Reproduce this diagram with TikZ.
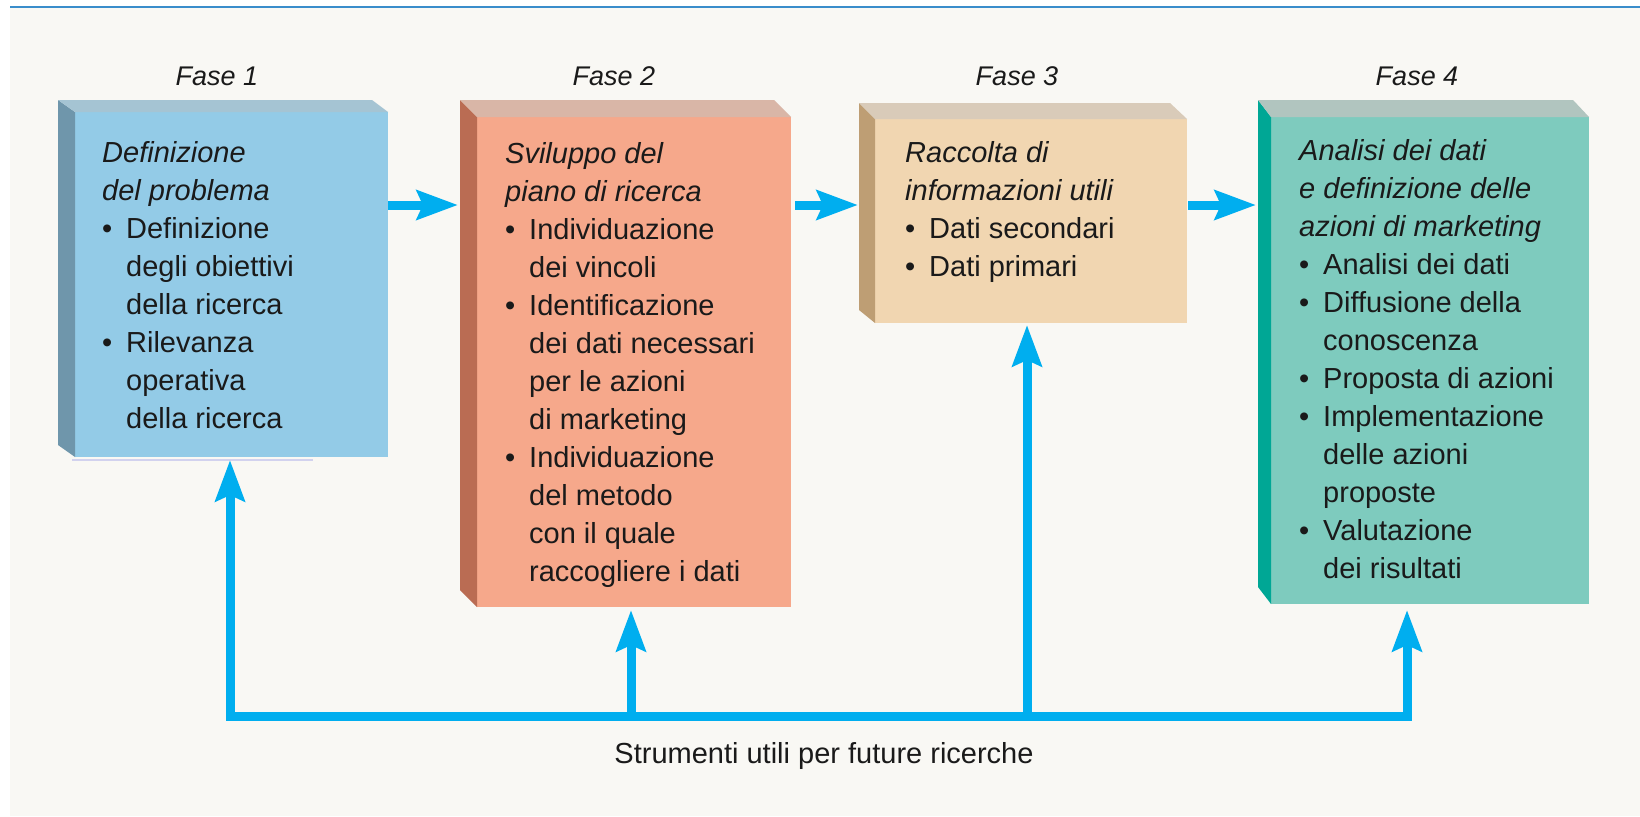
\documentclass[tikz,border=0pt]{standalone}
\usepackage{fontspec}
\setmainfont{Liberation Sans}
\usetikzlibrary{arrows.meta}
\definecolor{bgc}{HTML}{F9F8F4}
\definecolor{rulec}{HTML}{3A8DCB}
\definecolor{arrowc}{HTML}{00AEEF}
\definecolor{txtc}{HTML}{1A1A1A}
\definecolor{p1front}{HTML}{93CBE7}
\definecolor{p1top}{HTML}{A5C4D3}
\definecolor{p1side}{HTML}{6F96AB}
\definecolor{p2front}{HTML}{F6A88B}
\definecolor{p2top}{HTML}{D9B6A7}
\definecolor{p2side}{HTML}{BA6C53}
\definecolor{p3front}{HTML}{F1D6B1}
\definecolor{p3top}{HTML}{D9CBB9}
\definecolor{p3side}{HTML}{BE9E74}
\definecolor{p4front}{HTML}{7ECBBE}
\definecolor{p4top}{HTML}{B1C5BF}
\definecolor{p4side}{HTML}{00A795}
\definecolor{lavc}{HTML}{D2D2EE}
\newcommand{\bulitem}{\makebox[24pt][l]{\textbullet}}
\newcommand{\contind}{\hspace*{24pt}}
% #1 name, #2 x0 back-left, #3 xf front-left, #4 xb back-right, #5 x1 front-right,
% #6 y0 back-top, #7 yf front-top, #8 y1 front-bottom, #9 yl left-bottom
\newcommand{\prismbox}[9]{%
  \node[inner sep=0pt, outer sep=0pt, fill=#1front, anchor=north west,
        minimum width={(#5)-(#3)}, minimum height={(#8)-(#7)}] (#1) at (#3,#7) {};
  \coordinate (#1back) at (#2,#6);
  \fill[#1side] (#2,#6) -- (#3,#7) -- (#3,#8) -- (#2,#9) -- cycle;
  \fill[#1top] (#2,#6) -- (#4,#6) -- (#5,#7) -- (#3,#7) -- cycle;
}
\tikzset{
  flow/.style={draw=arrowc, line width=9pt},
  tipped/.style={-{Stealth[length=41pt,width=29pt,inset=6pt]}},
  boxtext/.style={inner sep=0pt, anchor=base west, text=txtc,
                  font=\fontsize{29}{38}\selectfont},
  fase/.style={inner sep=0pt, anchor=base, text=txtc,
               font=\itshape\fontsize{27}{32}\selectfont},
}
\begin{document}
\begin{tikzpicture}[x=1pt,y=-1pt]
\useasboundingbox (0,0) rectangle (1640,816);
\fill[white] (0,0) rectangle (1640,816);
\fill[bgc] (10,8) rectangle (1640,816);
\draw[rulec, line width=2pt] (10,7) -- (1640,7);

% boxes
\prismbox{p1}{58}{75}{372}{388}{100}{112}{457}{445}
\prismbox{p2}{460}{477}{774}{791}{100}{117}{607}{590}
\prismbox{p3}{859}{875}{1170}{1187}{103}{119}{323}{310}
\prismbox{p4}{1258}{1271}{1573}{1589}{100}{117}{604}{587}
\draw[lavc, line width=1.5pt] (72,460) -- (313,460);

% phase labels
\node[fase] (fase1) at (217,85) {Fase 1};
\node[fase] (fase2) at (614,85) {Fase 2};
\node[fase] (fase3) at (1017,85) {Fase 3};
\node[fase] (fase4) at (1417,85) {Fase 4};

% box texts
\node[boxtext] (t1) at (102,162) {\parbox[t]{280pt}{\fontsize{29}{38}\selectfont\raggedright
  {\itshape Definizione\\ del problema}\\
  \bulitem Definizione\\ \contind degli obiettivi\\ \contind della ricerca\\
  \bulitem Rilevanza\\ \contind operativa\\ \contind della ricerca}};
\node[boxtext] (t2) at (505,163) {\parbox[t]{285pt}{\fontsize{29}{38}\selectfont\raggedright
  {\itshape Sviluppo del\\ piano di ricerca}\\
  \bulitem Individuazione\\ \contind dei vincoli\\
  \bulitem Identificazione\\ \contind dei dati necessari\\ \contind per le azioni\\ \contind di marketing\\
  \bulitem Individuazione\\ \contind del metodo\\ \contind con il quale\\ \contind raccogliere i dati}};
\node[boxtext] (t3) at (905,162) {\parbox[t]{280pt}{\fontsize{29}{38}\selectfont\raggedright
  {\itshape Raccolta di\\ informazioni utili}\\
  \bulitem Dati secondari\\ \bulitem Dati primari}};
\node[boxtext] (t4) at (1299,160) {\parbox[t]{285pt}{\fontsize{29}{38}\selectfont\raggedright
  {\itshape Analisi dei dati\\ e definizione delle\\ azioni di marketing}\\
  \bulitem Analisi dei dati\\
  \bulitem Diffusione della\\ \contind conoscenza\\
  \bulitem Proposta di azioni\\
  \bulitem Implementazione\\ \contind delle azioni\\ \contind proposte\\
  \bulitem Valutazione\\ \contind dei risultati}};

% horizontal arrows
\coordinate (hy) at (0,205);
\draw[flow,tipped,shorten >=2pt] (p1.east |- hy) -- (p2back |- hy);
\draw[flow,tipped,shorten <=4pt,shorten >=1pt] (p2.east |- hy) -- (p3back |- hy);
\draw[flow,tipped,shorten <=1pt,shorten >=2pt] (p3.east |- hy) -- (p4back |- hy);

% feedback bus
\coordinate (k1) at (230,716);
\coordinate (k2) at (631,716);
\coordinate (k3) at (1027,716);
\coordinate (k4) at (1407,716);
\draw[flow, line cap=rect] (k1) -- (k4);
\draw[flow,tipped,shorten >=3pt] (k1) -- (p1.south -| k1);
\draw[flow,tipped,shorten >=3pt] (k2) -- (p2.south -| k2);
\draw[flow,tipped,shorten >=2pt] (k3) -- (p3.south -| k3);
\draw[flow,tipped,shorten >=6pt] (k4) -- (p4.south -| k4);

\node[inner sep=0pt, anchor=base, text=txtc, font=\fontsize{29}{36}\selectfont] (tools) at (824,763) {Strumenti utili per future ricerche};
\end{tikzpicture}
\end{document}
